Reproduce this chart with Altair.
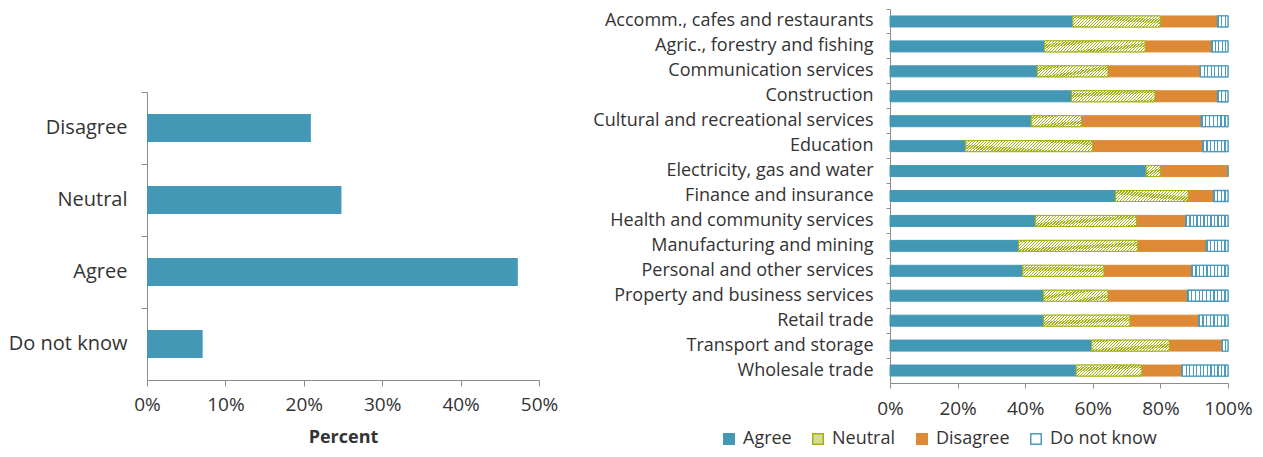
import altair as alt
import pandas as pd

# ---------------- data ----------------
resp_categories = ["Disagree", "Neutral", "Agree", "Do not know"]
resp_values = [20.9, 24.8, 47.3, 7.1]

industries = [
    "Accomm., cafes and restaurants",
    "Agric., forestry and fishing",
    "Communication services",
    "Construction",
    "Cultural and recreational services",
    "Education",
    "Electricity, gas and water",
    "Finance and insurance",
    "Health and community services",
    "Manufacturing and mining",
    "Personal and other services",
    "Property and business services",
    "Retail trade",
    "Transport and storage",
    "Wholesale trade",
]
agree = [54.1, 45.7, 43.6, 53.7, 41.8, 22.4, 75.8, 66.7, 43.0, 38.0, 39.3, 45.4, 45.4, 59.7, 55.1]
neutral = [25.9, 29.8, 20.9, 24.7, 14.9, 37.5, 4.2, 21.5, 29.9, 35.3, 24.0, 19.1, 25.6, 22.9, 19.4]
disagree = [16.9, 19.7, 27.3, 18.5, 35.4, 32.6, 20.0, 7.5, 14.6, 20.3, 26.0, 23.5, 20.3, 15.7, 11.9]
dont_know = [3.1, 4.8, 8.2, 3.1, 7.9, 7.5, 0.0, 4.3, 12.5, 6.4, 10.7, 12.0, 8.7, 1.7, 13.6]

responses = ["Agree", "Neutral", "Disagree", "Do not know"]

# ---------------- style ----------------
FONT = "Open Sans"
C_AGREE = "#4398b5"
C_OLIVE = "#a3b213"
C_DIS = "#de8935"
C_BLUE = "#4a9bbd"
AXIS_GREY = "#8c8c8c"
TEXT = "#333333"

LW, LH = 392, 371
RW, RH = 338, 374
RBAR = 12

rows = []
for i, ind in enumerate(industries):
    for j, (r, vals) in enumerate(zip(responses, [agree, neutral, disagree, dont_know])):
        rows.append({"industry": ind, "response": r, "value": vals[i], "order": j})
df = pd.DataFrame(rows)
left_df = pd.DataFrame({"response": resp_categories, "value": resp_values})


def hatch(W, H, period=3.0, frac=0.45):
    S = W + H
    n = max(1, round(S / period))
    k = (1 + H / W) / (1 + (H / W) ** 2)
    stops = []
    for j in range(n):
        a, b, c = j / n, (j + frac) / n, (j + 1) / n
        stops += [
            alt.GradientStop(offset=a, color=C_OLIVE),
            alt.GradientStop(offset=b, color=C_OLIVE),
            alt.GradientStop(offset=b, color="#ffffff"),
            alt.GradientStop(offset=c, color="#ffffff"),
        ]
    return alt.LinearGradient(gradient="linear", stops=stops, x1=0, y1=0, x2=k, y2=k * H / W)


def vstripes(W, period=3.6, frac=0.35):
    n = max(1, round(W / period))
    stops = []
    for j in range(n):
        a, b, c = j / n, (j + frac) / n, (j + 1) / n
        stops += [
            alt.GradientStop(offset=a, color=C_BLUE),
            alt.GradientStop(offset=b, color=C_BLUE),
            alt.GradientStop(offset=b, color="#ffffff"),
            alt.GradientStop(offset=c, color="#ffffff"),
        ]
    return alt.LinearGradient(gradient="linear", stops=stops, x1=0, y1=0, x2=1, y2=0)


# ---------------- left chart ----------------
left = (
    alt.Chart(left_df)
    .mark_bar(size=28, color=C_AGREE)
    .encode(
        x=alt.X(
            "value:Q",
            scale=alt.Scale(domain=[0, 50], nice=False),
            axis=alt.Axis(
                values=[0, 10, 20, 30, 40, 50],
                labelExpr="datum.value + '%'",
                labelFlush=False,
                title="Percent",
                titleFontWeight="bold",
                titleFontSize=18,
                titlePadding=14,
                tickSize=6,
                labelPadding=9,
                labelFontSize=19,
            ),
        ),
        y=alt.Y(
            "response:N",
            sort=resp_categories,
            title=None,
            scale=alt.Scale(paddingInner=0, paddingOuter=0, range=[83, LH]),
            axis=alt.Axis(bandPosition=0, tickSize=6, labelPadding=14, labelFontSize=20, labelLimit=0),
        ),
    )
    .properties(width=LW, height=LH)
)

# ---------------- right chart ----------------
x_enc = alt.X(
    "v0:Q",
    scale=alt.Scale(domain=[0, 100], nice=False),
    axis=alt.Axis(
        values=[0, 20, 40, 60, 80, 100],
        labelExpr="datum.value + '%'",
        labelFlush=False,
        title=None,
        tickSize=5,
        labelPadding=11,
        labelFontSize=19,
    ),
)
y_enc = alt.Y(
    "industry:N",
    sort=industries,
    title=None,
    scale=alt.Scale(paddingInner=0, paddingOuter=0),
    axis=alt.Axis(bandPosition=0, tickSize=4, labelPadding=13, labelFontSize=18, labelLimit=0),
)

base = alt.Chart(df).transform_stack(
    stack="value",
    groupby=["industry"],
    as_=["v0", "v1"],
    sort=[alt.SortField("order", order="ascending")],
)

solid = base.mark_bar(size=RBAR - 1, strokeWidth=1).encode(
    x=x_enc,
    x2="v1:Q",
    y=y_enc,
    fill=alt.Fill(
        "response:N",
        sort=responses,
        scale=alt.Scale(domain=responses, range=[C_AGREE, "#d6dc98", C_DIS, "#ffffff"]),
        legend=alt.Legend(
            title=None,
            orient="none",
            direction="horizontal",
            legendX=573,
            legendY=421,
            symbolType="square",
            symbolSize=110,
            symbolStrokeWidth=1.5,
            labelFontSize=18,
            labelOffset=5,
            columnPadding=17,
        ),
    ),
    stroke=alt.Stroke(
        "response:N",
        sort=responses,
        scale=alt.Scale(domain=responses, range=[C_AGREE, C_OLIVE, C_DIS, C_BLUE]),
        legend=None,
    ),
)

layers = [solid]
for i, ind in enumerate(industries):
    Wn = neutral[i] / 100 * RW
    if Wn > 0:
        layers.append(
            base.transform_filter(alt.FieldEqualPredicate(field="industry", equal=ind))
            .transform_filter(alt.FieldEqualPredicate(field="response", equal="Neutral"))
            .mark_bar(size=RBAR - 1, fill=hatch(Wn, RBAR), stroke=C_OLIVE, strokeWidth=1)
            .encode(x=x_enc, x2="v1:Q", y=y_enc)
        )
    Wd = dont_know[i] / 100 * RW
    if Wd > 0:
        layers.append(
            base.transform_filter(alt.FieldEqualPredicate(field="industry", equal=ind))
            .transform_filter(alt.FieldEqualPredicate(field="response", equal="Do not know"))
            .mark_bar(size=RBAR - 1, fill=vstripes(Wd), stroke=C_BLUE, strokeWidth=1.3)
            .encode(x=x_enc, x2="v1:Q", y=y_enc)
        )

right = alt.layer(*layers).properties(width=RW, height=RH)

chart = (
    alt.hconcat(left, right, spacing=34)
    .properties(padding=0)
    .configure_view(stroke=None)
    .configure_axis(
        grid=False,
        domainColor=AXIS_GREY,
        tickColor=AXIS_GREY,
        labelColor=TEXT,
        titleColor=TEXT,
        labelFont=FONT,
        titleFont=FONT,
    )
    .configure_legend(labelFont=FONT, labelColor=TEXT)
)

chart.save("out.html", embed_options={"renderer": "svg", "actions": False})
